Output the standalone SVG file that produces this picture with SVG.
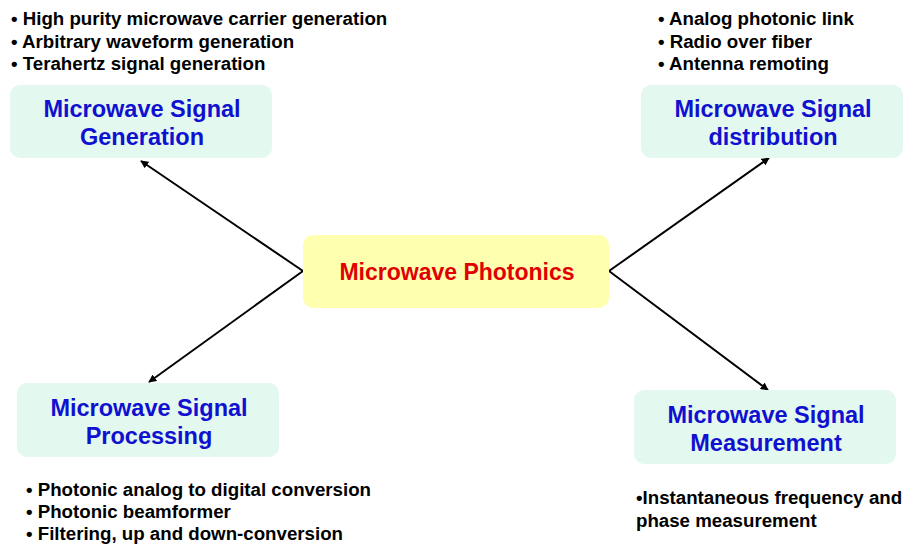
<svg xmlns="http://www.w3.org/2000/svg" width="905" height="544" viewBox="0 0 905 544">
<defs>
<marker id="ah" viewBox="0 0 10 10" refX="9" refY="5" markerWidth="8" markerHeight="8" orient="auto" markerUnits="userSpaceOnUse">
<path d="M0,0 L10,5 L0,10 z" fill="#000"/>
</marker>
<style>
.box{fill:#e3f8ee;}
.core{fill:#ffffb0;}
.title{font-family:"Liberation Sans",Arial,sans-serif;font-weight:bold;font-size:23.5px;fill:#1010d0;text-anchor:middle;}
.ctitle{font-family:"Liberation Sans",Arial,sans-serif;font-weight:bold;font-size:23px;fill:#e00000;text-anchor:middle;}
.bul{font-family:"Liberation Sans",Arial,sans-serif;font-weight:bold;font-size:18.7px;fill:#000;}
.conn{stroke:#000;stroke-width:2;fill:none;marker-end:url(#ah);}
</style>
</defs>
<rect width="905" height="544" fill="#fff"/>
<g id="connectors">
<polyline class="conn" points="303,271 141,161"/>
<polyline class="conn" points="303,271 149,382"/>
<polyline class="conn" points="609,271 769,158"/>
<polyline class="conn" points="609,271 768,390"/>
</g>
<g id="core">
<rect class="core" x="303" y="235" width="306" height="73" rx="10"/>
<text class="ctitle" x="457" y="280">Microwave Photonics</text>
</g>
<g id="generation">
<rect class="box" x="10" y="85" width="262" height="73" rx="10"/>
<text class="title" x="142" y="117">Microwave Signal</text>
<text class="title" x="142" y="145">Generation</text>
</g>
<g id="distribution">
<rect class="box" x="641" y="85" width="262" height="73" rx="10"/>
<text class="title" x="773" y="117">Microwave Signal</text>
<text class="title" x="773" y="145">distribution</text>
</g>
<g id="processing">
<rect class="box" x="17" y="383" width="262" height="74" rx="10"/>
<text class="title" x="149" y="416">Microwave Signal</text>
<text class="title" x="149" y="444">Processing</text>
</g>
<g id="measurement">
<rect class="box" x="634" y="390" width="262" height="74" rx="10"/>
<text class="title" x="766" y="423">Microwave Signal</text>
<text class="title" x="766" y="451">Measurement</text>
</g>
<g id="generation-notes">
<text class="bul" x="11" y="25">• High purity microwave carrier generation</text>
<text class="bul" x="11" y="48">• Arbitrary waveform generation</text>
<text class="bul" x="11" y="70">• Terahertz signal generation</text>
</g>
<g id="distribution-notes">
<text class="bul" x="658" y="25">• Analog photonic link</text>
<text class="bul" x="658" y="48">• Radio over fiber</text>
<text class="bul" x="658" y="70">• Antenna remoting</text>
</g>
<g id="processing-notes">
<text class="bul" x="26" y="496">• Photonic analog to digital conversion</text>
<text class="bul" x="26" y="518">• Photonic beamformer</text>
<text class="bul" x="26" y="540">• Filtering, up and down-conversion</text>
</g>
<g id="measurement-notes">
<text class="bul" x="636" y="504">•Instantaneous frequency and</text>
<text class="bul" x="636" y="527">phase measurement</text>
</g>
</svg>
